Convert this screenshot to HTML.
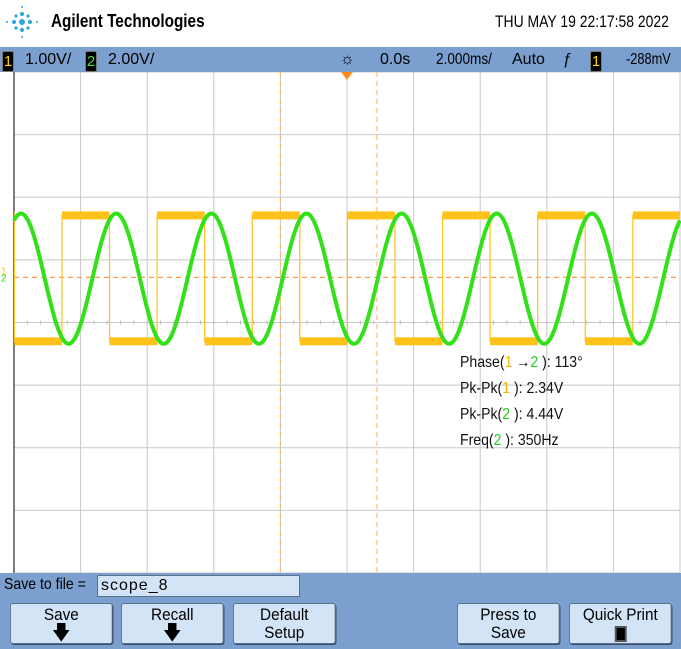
<!DOCTYPE html>
<html><head><meta charset="utf-8">
<style>
body{margin:0;width:681px;height:649px;overflow:hidden;background:#fff;font-family:"Liberation Sans",sans-serif;position:relative}
.abs{position:absolute;white-space:nowrap}
.btn{position:absolute;top:603px;height:41px;width:114px;background:#d4e4f7;border:1px solid #5a6f8c;border-radius:3px;box-shadow:1px 1px 0 #3d4d66;text-align:center;font-size:17px;line-height:18px;color:#000;box-sizing:border-box;padding-top:2px;transform:scaleX(0.9);transform-origin:left}
.chip{display:inline-block;background:#000;border:1px solid #777;border-radius:2px;width:10px;height:19px;line-height:19px;text-align:center;font-size:15px}
</style></head><body>
<div class="abs" style="left:0;top:0;width:681px;height:46px;background:#fff">
 <svg class="abs" style="left:5px;top:2px" width="34" height="40" viewBox="0 0 34 40">
  <g fill="#2aa6d8"><circle cx="17" cy="20" r="3"/><circle cx="17" cy="12" r="2"/><circle cx="17" cy="28" r="2"/><circle cx="9" cy="20" r="2"/><circle cx="25" cy="20" r="2"/><circle cx="11" cy="14" r="1.6"/><circle cx="23" cy="14" r="1.6"/><circle cx="11" cy="26" r="1.6"/><circle cx="23" cy="26" r="1.6"/><circle cx="17" cy="5" r="1"/><circle cx="17" cy="35" r="1"/><circle cx="2" cy="20" r="1"/><circle cx="32" cy="20" r="1"/></g>
 </svg>
 <div class="abs" style="left:51px;top:11px;font-size:18px;font-weight:bold;transform:scaleX(0.85);transform-origin:left">Agilent Technologies</div>
 <div class="abs" style="left:495px;top:12px;font-size:17px;transform:scaleX(0.82);transform-origin:left">THU MAY 19 22:17:58 2022</div>
</div>
<div class="abs" style="left:0;top:47px;width:681px;height:25px;background:#7b9fcf;font-size:16px;line-height:25px;color:#000">
 <span class="abs" style="left:2px;top:2px"><span class="chip" style="color:#ffd200">1</span></span>
 <span class="abs" style="left:25px">1.00V/</span>
 <span class="abs" style="left:85px;top:2px"><span class="chip" style="color:#3fe03f">2</span></span>
 <span class="abs" style="left:108px">2.00V/</span>
 <span class="abs" style="left:340px">☼</span>
 <span class="abs" style="left:380px">0.0s</span>
 <span class="abs" style="left:436px;transform:scaleX(0.85);transform-origin:left">2.000ms/</span>
 <span class="abs" style="left:512px">Auto</span>
 <span class="abs" style="left:563px">ƒ</span>
 <span class="abs" style="left:590px;top:2px"><span class="chip" style="color:#ffd200">1</span></span>
 <span class="abs" style="left:626px;transform:scaleX(0.8);transform-origin:left">-288mV</span>
</div>
<svg class="abs" id="plot" style="left:0;top:72px" width="681" height="502"></svg>
<div class="abs" style="left:0;top:573px;width:681px;height:76px;background:#7b9fcf"></div>
<div class="abs" style="left:4px;top:576px;font-size:16px;transform:scaleX(0.88);transform-origin:left">Save to file =</div>
<div class="abs" style="left:97px;top:575px;width:203px;height:22px;background:#d4e4f7;border:1px solid #5a6f8c;box-sizing:border-box;font-size:16px;padding-left:3px;line-height:20px;letter-spacing:1px">scope_8</div>
<div class="btn" style="left:10px">Save<br><span style="font-size:20px">🡇</span></div>
<div class="btn" style="left:121px">Recall<br><span style="font-size:20px">🡇</span></div>
<div class="btn" style="left:233px">Default<br>Setup</div>
<div class="btn" style="left:457px">Press to<br>Save</div>
<div class="btn" style="left:569px">Quick Print<br><span style="display:inline-block;width:9px;height:12px;background:#000;border:2px solid #555;margin-top:2px"></span></div>
<script>
// data
const timePerDiv = 2.0;        // ms/div
const ch2FreqHz = [350];       // Hz
const ch1Levels = [1.71, -0.30];   // high, low (div from center)
const ch1RiseTimes = [-8.56];      // ms, first rising edge
const ch2Amplitude = [1.04];       // div
const ch2Offset = [0.70];          // div
const ch2PeakTime = [-9.79];       // ms, first peak
const triggerLevel = [0.72];       // div
const cursorTimes = [-2.0, 0.9];   // ms
const measLabels = ["Phase(", "Pk-Pk(", "Pk-Pk(", "Freq("];
const measCh = ["1 →2", "1", "2", "2"];
const measValues = ["113°", "2.34V", "4.44V", "350Hz"];

const svg = document.getElementById('plot');
const NS = 'http://www.w3.org/2000/svg';
const X0 = 14, X1 = 680, Y0 = 0, Y1 = 501;
const divW = (X1 - X0) / 10, divH = (Y1 - Y0) / 8;
const xOf = t => X0 + (t / timePerDiv + 5) * divW;
const yOf = d => Y0 + (4 - d) * divH;
function mk(tag, attrs){const e=document.createElementNS(NS,tag);for(const k in attrs)e.setAttribute(k,attrs[k]);svg.appendChild(e);return e;}
const defs=mk('defs',{});
defs.innerHTML=`<clipPath id="clip"><rect x="${X0}" y="0" width="${X1-X0}" height="${Y1}"/></clipPath>`;
// grid
for(let i=0;i<=10;i++){const l=mk('line',{x1:X0+i*divW,x2:X0+i*divW,y1:Y0,y2:Y1,stroke:'#c8c8c8','stroke-width':1});

}
for(let j=0;j<=8;j++){const l=mk('line',{x1:X0,x2:X1,y1:Y0+j*divH,y2:Y0+j*divH,stroke:'#c8c8c8','stroke-width':1});

}
for(let i=0;i<50;i++){const x=X0+i*divW/5;mk('line',{x1:x,x2:x,y1:yOf(0)-2,y2:yOf(0)+2,stroke:'#bbb'});}
mk('line',{x1:X0,x2:X0,y1:0,y2:Y1,stroke:'#555','stroke-width':1.5});
// cursors
cursorTimes.forEach(t=>{const l=mk('line',{x1:xOf(t),x2:xOf(t),y1:0,y2:Y1,stroke:'#ffb060','stroke-dasharray':'5,4','stroke-width':1});

});
const tl=mk('line',{x1:X0,x2:X1,y1:yOf(triggerLevel[0]),y2:yOf(triggerLevel[0]),stroke:'#ff9c50','stroke-dasharray':'5,4','stroke-width':1.2});


const tm=mk('polygon',{points:`${xOf(0)-6},0 ${xOf(0)+6},0 ${xOf(0)},8`,fill:'#ff8c20'});


// ch1 square
const period = 1000 / ch2FreqHz[0];
const tMin=-5*timePerDiv, tMax=5*timePerDiv;
const hi=yOf(ch1Levels[0]), lo=yOf(ch1Levels[1]);
const t0=ch1RiseTimes[0]-period;
let d=`M${xOf(t0)},${lo}`;
for(let t=t0;t<tMax+period;t+=period){
  d+=`L${xOf(t)},${lo}L${xOf(t)},${hi}L${xOf(t+period/2)},${hi}L${xOf(t+period/2)},${lo}L${xOf(t+period)},${lo}`;
}
const sq=mk('path',{d:d,fill:'none',stroke:'#ffc21a','stroke-width':1.2,'clip-path':'url(#clip)'});


for(let t=t0;t<tMax;t+=period){
  const a=Math.max(t,tMin),b=Math.min(t+period/2,tMax);
  if(b>a){const r=mk('rect',{x:xOf(a),y:hi-4,width:xOf(b)-xOf(a),height:8,fill:'#ffc21a'});}
  const c=Math.max(t+period/2,tMin),e=Math.min(t+period,tMax);
  if(e>c){const r=mk('rect',{x:xOf(c),y:lo-4,width:xOf(e)-xOf(c),height:8,fill:'#ffc21a'});}
}
// ch2 sine
let p='';
for(let x=X0;x<=X1;x+=1){const t=(x-X0)/divW*timePerDiv+tMin;
 const v=ch2Offset[0]+ch2Amplitude[0]*Math.cos(2*Math.PI*(t-ch2PeakTime[0])/period);
 p+=(x===X0?'M':'L')+x+','+yOf(v).toFixed(1);}
const sn=mk('path',{d:p,fill:'none',stroke:'#33e01a','stroke-width':4,'stroke-linejoin':'round'});


// left markers
const m1=mk('text',{x:1,y:yOf(triggerLevel[0])-3,fill:'#ffc21a','font-size':10});m1.textContent='1';
const m2=mk('text',{x:1,y:yOf(triggerLevel[0])+4,fill:'#33e01a','font-size':10});m2.textContent='2';
// measurements
measLabels.forEach((lab,i)=>{const tx=mk('text',{x:460,y:295+i*26,'font-size':16,fill:'#111','font-family':'Liberation Sans'});
 
 
 tx.setAttribute('transform',`translate(460,0) scale(0.88,1) translate(-460,0)`);
 const s1=document.createElementNS(NS,'tspan');s1.textContent=lab;tx.appendChild(s1);
 const parts=measCh[i].split(' ');
 parts.forEach(pt=>{const s=document.createElementNS(NS,'tspan');s.textContent=pt.replace('→','');
  if(pt.includes('→')){const a=document.createElementNS(NS,'tspan');a.textContent=' →';a.setAttribute('fill','#111');tx.appendChild(a);}
  s.setAttribute('fill',s.textContent==='1'?'#ffb000':'#22cc22');tx.appendChild(s);});
 const s3=document.createElementNS(NS,'tspan');s3.textContent=' ): '+measValues[i];tx.appendChild(s3);
});
</script>
</body></html>
